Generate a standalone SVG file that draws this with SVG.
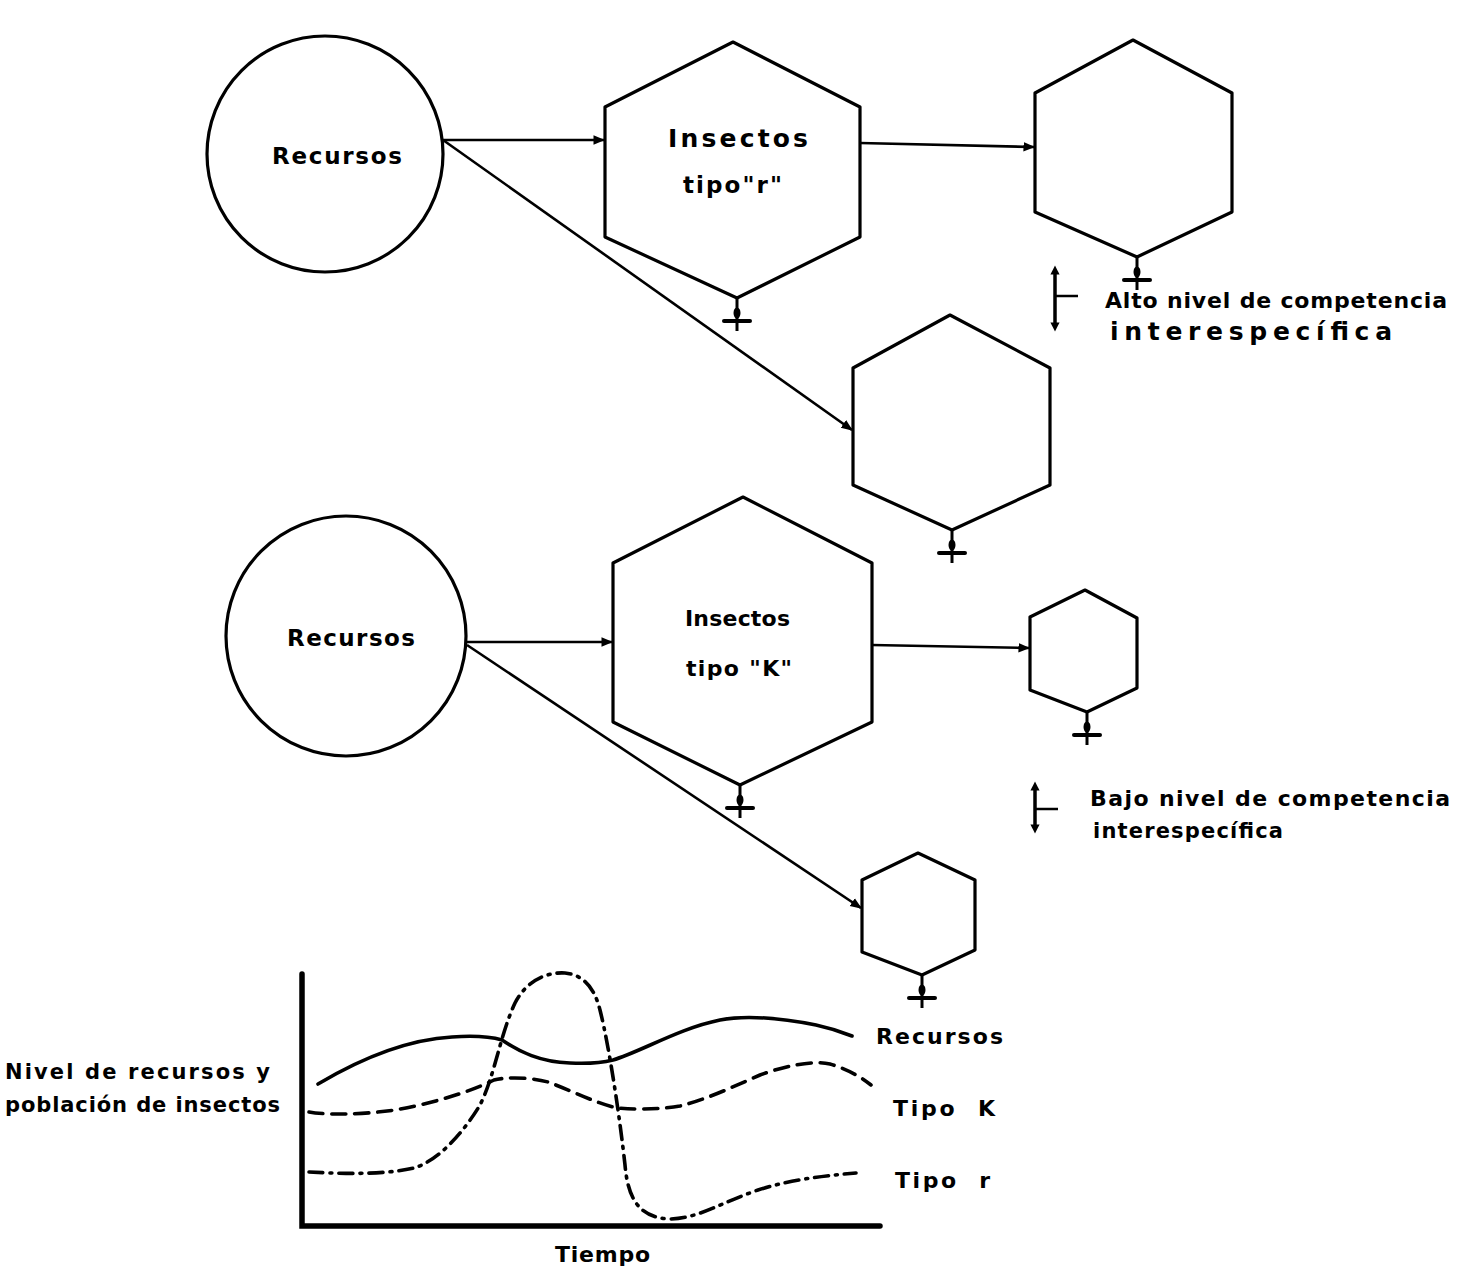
<svg xmlns="http://www.w3.org/2000/svg" width="1462" height="1275" viewBox="0 0 1462 1275">
  <style>
    .shape { fill: none; stroke: #000; stroke-width: 3.2; stroke-linejoin: round; }
    .link { fill: none; stroke: #000; stroke-width: 2.6; }
    .lbl { font-family: "DejaVu Sans", "Liberation Sans", Arial, sans-serif; font-weight: bold; fill: #000; }
    .axis { fill: none; stroke: #000; stroke-width: 5.5; stroke-linecap: round; }
    .curve { fill: none; stroke: #000; stroke-width: 3.6; stroke-linecap: round; }
  </style>
  <defs>
    <marker id="arr" viewBox="0 0 10 10" refX="9" refY="5" markerWidth="4.5" markerHeight="4.5" orient="auto">
      <path d="M0,1 L10,5 L0,9 z" fill="#000"/>
    </marker>
    <marker id="tip" viewBox="0 0 10 10" refX="5" refY="5" markerWidth="2.6" markerHeight="3.4" orient="auto-start-reverse">
      <path d="M0,0 L10,5 L0,10 z" fill="#000"/>
    </marker>
    <!-- outflow (ground) symbol hung under each hexagon -->
    <g id="ground">
      <line x1="0" y1="0" x2="0" y2="33" stroke="#000" stroke-width="3"/>
      <ellipse cx="0" cy="15" rx="3.5" ry="5.5" fill="#000"/>
      <line x1="-13" y1="23" x2="13" y2="23" stroke="#000" stroke-width="4" stroke-linecap="round"/>
    </g>
  </defs>

  <!-- connectors -->
  <g id="connectors">
    <line class="link" x1="443" y1="140" x2="604" y2="140" marker-end="url(#arr)"/>
    <line class="link" x1="860" y1="143" x2="1034" y2="147" marker-end="url(#arr)"/>
    <line class="link" x1="443" y1="140" x2="852" y2="430" marker-end="url(#arr)"/>
    <line class="link" x1="467" y1="642" x2="612" y2="642" marker-end="url(#arr)"/>
    <line class="link" x1="872" y1="645" x2="1029" y2="648" marker-end="url(#arr)"/>
    <line class="link" x1="467" y1="645" x2="861" y2="908" marker-end="url(#arr)"/>
  </g>

  <!-- upper scheme: r-strategists -->
  <g id="recursos-r">
    <circle class="shape" cx="325" cy="154" r="118"/>
    <text class="lbl" x="272" y="164" font-size="23" textLength="130" lengthAdjust="spacing">Recursos</text>
  </g>
  <g id="insectos-r">
    <polygon class="shape" points="733,42 605,107 605,237 737,298 860,237 860,107"/>
    <text class="lbl" x="668" y="147" font-size="25" textLength="140" lengthAdjust="spacing">Insectos</text>
    <text class="lbl" x="683" y="193" font-size="23" textLength="99" lengthAdjust="spacing">tipo"r"</text>
    <use href="#ground" x="737" y="298"/>
  </g>
  <g id="hex-r-a">
    <polygon class="shape" points="1133,40 1035,93 1035,212 1137,257 1232,212 1232,93"/>
    <use href="#ground" x="1137" y="257"/>
  </g>
  <g id="hex-r-b">
    <polygon class="shape" points="950,315 853,368 853,485 952,530 1050,485 1050,368"/>
    <use href="#ground" x="952" y="530"/>
  </g>
  <g id="nota-alto">
    <line x1="1055" y1="270" x2="1055" y2="327" stroke="#000" stroke-width="3.5" marker-start="url(#tip)" marker-end="url(#tip)"/>
    <line x1="1056" y1="296" x2="1078" y2="296" stroke="#000" stroke-width="2.5"/>
    <text class="lbl" x="1105" y="308" font-size="22" textLength="342" lengthAdjust="spacing">Alto nivel de competencia</text>
    <text class="lbl" x="1110" y="340" font-size="25" textLength="282" lengthAdjust="spacing">interespecífica</text>
  </g>

  <!-- lower scheme: K-strategists -->
  <g id="recursos-k">
    <circle class="shape" cx="346" cy="636" r="120"/>
    <text class="lbl" x="287" y="646" font-size="23" textLength="128" lengthAdjust="spacing">Recursos</text>
  </g>
  <g id="insectos-k">
    <polygon class="shape" points="743,497 613,563 613,722 740,785 872,722 872,563"/>
    <text class="lbl" x="685" y="626" font-size="22" textLength="105" lengthAdjust="spacing">Insectos</text>
    <text class="lbl" x="686" y="676" font-size="22" textLength="106" lengthAdjust="spacing">tipo "K"</text>
    <use href="#ground" x="740" y="785"/>
  </g>
  <g id="hex-k-a">
    <polygon class="shape" points="1085,590 1030,617 1030,690 1087,712 1137,688 1137,618"/>
    <use href="#ground" x="1087" y="712"/>
  </g>
  <g id="hex-k-b">
    <polygon class="shape" points="918,853 862,880 862,952 922,975 975,950 975,880"/>
    <use href="#ground" x="922" y="975"/>
  </g>
  <g id="nota-bajo">
    <line x1="1035" y1="786" x2="1035" y2="829" stroke="#000" stroke-width="3.5" marker-start="url(#tip)" marker-end="url(#tip)"/>
    <line x1="1036" y1="809" x2="1058" y2="809" stroke="#000" stroke-width="2.5"/>
    <text class="lbl" x="1090" y="806" font-size="22" textLength="360" lengthAdjust="spacing">Bajo nivel de competencia</text>
    <text class="lbl" x="1093" y="838" font-size="21" textLength="190" lengthAdjust="spacing">interespecífica</text>
  </g>

  <!-- time plot -->
  <g id="grafico">
    <path class="axis" d="M302,974 L302,1226 L880,1226"/>
    <path class="curve" d="M318,1084 C350,1065 400,1040 452,1037 C480,1035 495,1038 502,1040 C520,1052 540,1062 570,1063 C590,1064 605,1062 613,1060 C640,1052 680,1028 720,1020 C745,1015 780,1018 816,1025 C830,1028 842,1032 852,1036"/>
    <path class="curve" stroke-dasharray="14,9" d="M309,1112 C325,1115 360,1115 395,1110 C430,1104 470,1092 494,1080 C505,1077 530,1077 548,1082 C570,1090 595,1103 617,1108 C640,1110 663,1109 680,1106 C705,1100 735,1086 760,1075 C785,1066 812,1060 830,1064 C850,1070 862,1078 871,1085"/>
    <path class="curve" stroke-dasharray="14,7,2,7" d="M309,1172 C330,1173 380,1176 414,1168 C440,1160 465,1130 480,1105 C495,1075 500,1035 515,1003 C528,978 550,972 565,973 C585,975 595,990 600,1010 C610,1050 620,1120 625,1165 C628,1200 640,1218 670,1219 C700,1218 720,1203 758,1190 C790,1180 820,1176 856,1173"/>
    <text class="lbl" x="876" y="1044" font-size="22" textLength="127" lengthAdjust="spacing">Recursos</text>
    <text class="lbl" x="893" y="1116" font-size="22" textLength="102" lengthAdjust="spacing" xml:space="preserve">Tipo  K</text>
    <text class="lbl" x="895" y="1188" font-size="22" textLength="95" lengthAdjust="spacing" xml:space="preserve">Tipo  r</text>
    <text class="lbl" x="5" y="1079" font-size="21" textLength="265" lengthAdjust="spacing">Nivel de recursos y</text>
    <text class="lbl" x="5" y="1112" font-size="21" textLength="275" lengthAdjust="spacing">población de insectos</text>
    <text class="lbl" x="555" y="1262" font-size="22" textLength="95" lengthAdjust="spacing">Tiempo</text>
  </g>
</svg>
